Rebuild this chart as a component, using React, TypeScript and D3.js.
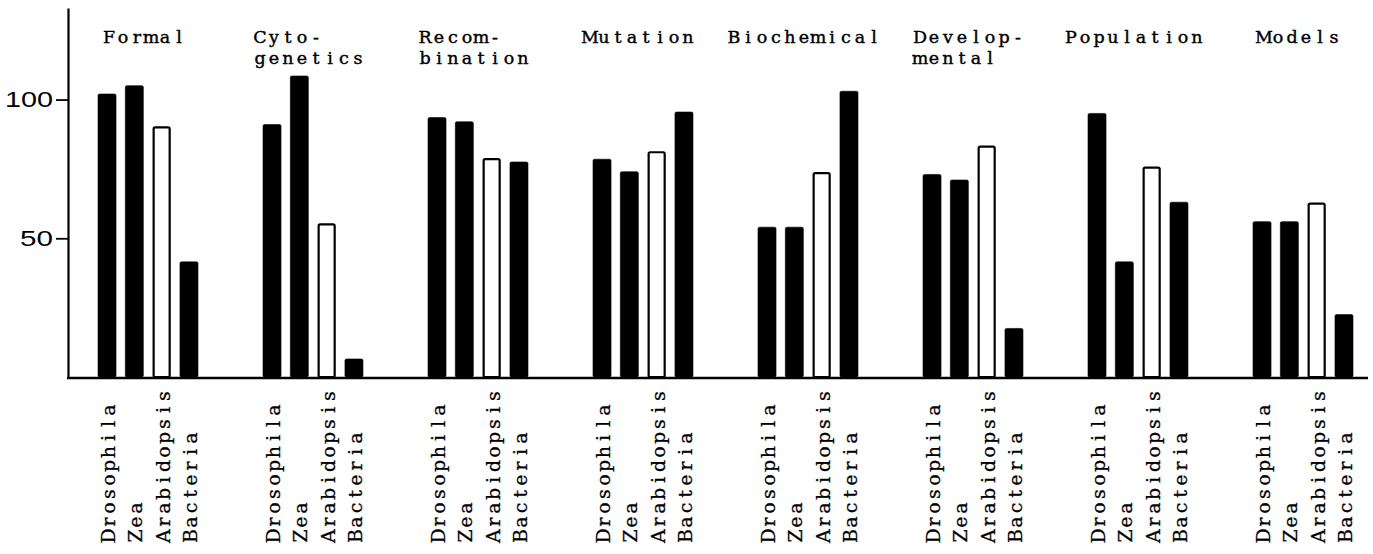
import { useEffect, useRef } from "react";
import * as d3 from "d3";

const categories = ["Formal", "Cytogenetics", "Recombination", "Mutation", "Biochemical", "Developmental", "Population", "Models"];
const titleLines = [["Formal"], ["Cyto-", "genetics"], ["Recom-", "bination"], ["Mutation"], ["Biochemical"], ["Develop-", "mental"], ["Population"], ["Models"]];
const organisms = ["Drosophila", "Zea", "Arabidopsis", "Bacteria"];

// one array per organism, in category order
const drosophila = [102, 91, 93.5, 78.5, 54, 73, 95, 56];
const zea = [105, 108.5, 92, 74, 54, 71, 41.5, 56];
const arabidopsis = [90, 55, 78.5, 81, 73.5, 83, 75.5, 62.5];
const bacteria = [41.5, 6.5, 77.5, 95.5, 103, 17.5, 63, 22.5];
const yTicks = [50, 100];

const W = 1373;
const H = 554;
// no typewriter face installed: a slab-ish serif placed one glyph per fixed cell
const TYPE = "'DejaVu Serif', 'Liberation Serif', serif";
const CELL = 14;

// centre of each character cell, so every glyph gets the same width (typewriter look)
const cells = (s: string, start: number) =>
    s.split("").map((_, i) => start + i * CELL + CELL / 2).join(" ");

export default function App() {
    const svgRef = useRef<SVGSVGElement>(null);

    useEffect(() => {
        if (!svgRef.current) return;
        const svg = d3.select(svgRef.current);
        svg.selectAll("*").remove();

        const series = [drosophila, zea, arabidopsis, bacteria];
        const rows = categories.map((c, i) => ({
            cat: c,
            values: organisms.map((o, j) => ({ org: o, value: series[j][i] })),
        }));

        const axisX = 68;
        const baseY = 377;

        const x0 = d3.scaleBand().domain(categories).range([98, 1353]).paddingInner(0.394).paddingOuter(0);
        const x1 = d3.scaleBand().domain(organisms).range([0, x0.bandwidth()]).paddingInner(0.34).paddingOuter(0);
        const y = d3.scaleLinear().domain([0, 133]).range([baseY, 8]);

        // bars
        const groups = svg.append("g")
            .selectAll("g")
            .data(rows)
            .join("g")
            .attr("transform", (d) => `translate(${x0(d.cat)},0)`);

        groups.selectAll("rect")
            .data((d) => d.values)
            .join("rect")
            .attr("x", (d) => (x1(d.org) ?? 0) + (d.org === "Arabidopsis" ? 1 : 0))
            .attr("width", (d) => x1.bandwidth() - (d.org === "Arabidopsis" ? 2 : 0))
            .attr("y", (d) => y(d.value))
            .attr("height", (d) => baseY - y(d.value))
            .attr("fill", (d) => (d.org === "Arabidopsis" ? "#fff" : "#000"))
            .attr("stroke", "#000")
            .attr("stroke-width", (d) => (d.org === "Arabidopsis" ? 2.2 : 0.6))
            .attr("rx", 1.5);

        // y axis
        const yAxis = svg.append("g")
            .attr("transform", `translate(${axisX},0)`)
            .call(d3.axisLeft(y).tickValues(yTicks).tickSize(12).tickSizeOuter(0).tickPadding(3));
        yAxis.select(".domain").attr("stroke-width", 2.2);
        yAxis.selectAll(".tick line").attr("stroke-width", 1.8);
        yAxis.selectAll(".tick text")
            .attr("font-family", "'Liberation Sans', Arial, sans-serif")
            .attr("font-size", 22)
            .attr("fill", "#000")
            .attr("textLength", (d: any) => (String(d).length === 3 ? 48 : 33))
            .attr("lengthAdjust", "spacingAndGlyphs");

        // x axis line
        svg.append("line")
            .attr("x1", axisX - 1)
            .attr("x2", 1368)
            .attr("y1", baseY + 1)
            .attr("y2", baseY + 1)
            .attr("stroke", "#000")
            .attr("stroke-width", 2.4);

        // category titles, a left aligned block centred over each group
        rows.forEach((r, i) => {
            const lines = titleLines[i];
            const wMax = d3.max(lines, (l) => l.length * CELL) ?? 0;
            const left = (x0(r.cat) ?? 0) + x0.bandwidth() / 2 - wMax / 2 - 4;
            lines.forEach((l, k) => {
                svg.append("text")
                    .attr("x", cells(l, left))
                    .attr("y", 43 + k * 20.5)
                    .attr("text-anchor", "middle")
                    .attr("font-family", TYPE)
                    .attr("font-size", 17.5)
                    .attr("fill", "#000")
                    .attr("stroke", "#000")
                    .attr("stroke-width", 0.4)
                    .text(l);
            });
        });

        // rotated organism labels under each bar
        groups.selectAll("text.org")
            .data((d) => d.values)
            .join("text")
            .attr("class", "org")
            .attr("transform", (d) => `translate(${(x1(d.org) ?? 0) + x1.bandwidth() / 2 + 8},543) rotate(-90)`)
            .attr("x", (d) => cells(d.org, 0))
            .attr("y", 0)
            .attr("text-anchor", "middle")
            .attr("font-family", TYPE)
            .attr("font-size", 19)
            .attr("fill", "#000")
            .attr("stroke", "#000")
            .attr("stroke-width", 0.3)
            .text((d) => d.org);
    }, []);

    return (
        <svg
            ref={svgRef}
            width={W}
            height={H}
            style={{ position: "absolute", left: 0, top: 0, background: "#fff" }}
        />
    );
}
